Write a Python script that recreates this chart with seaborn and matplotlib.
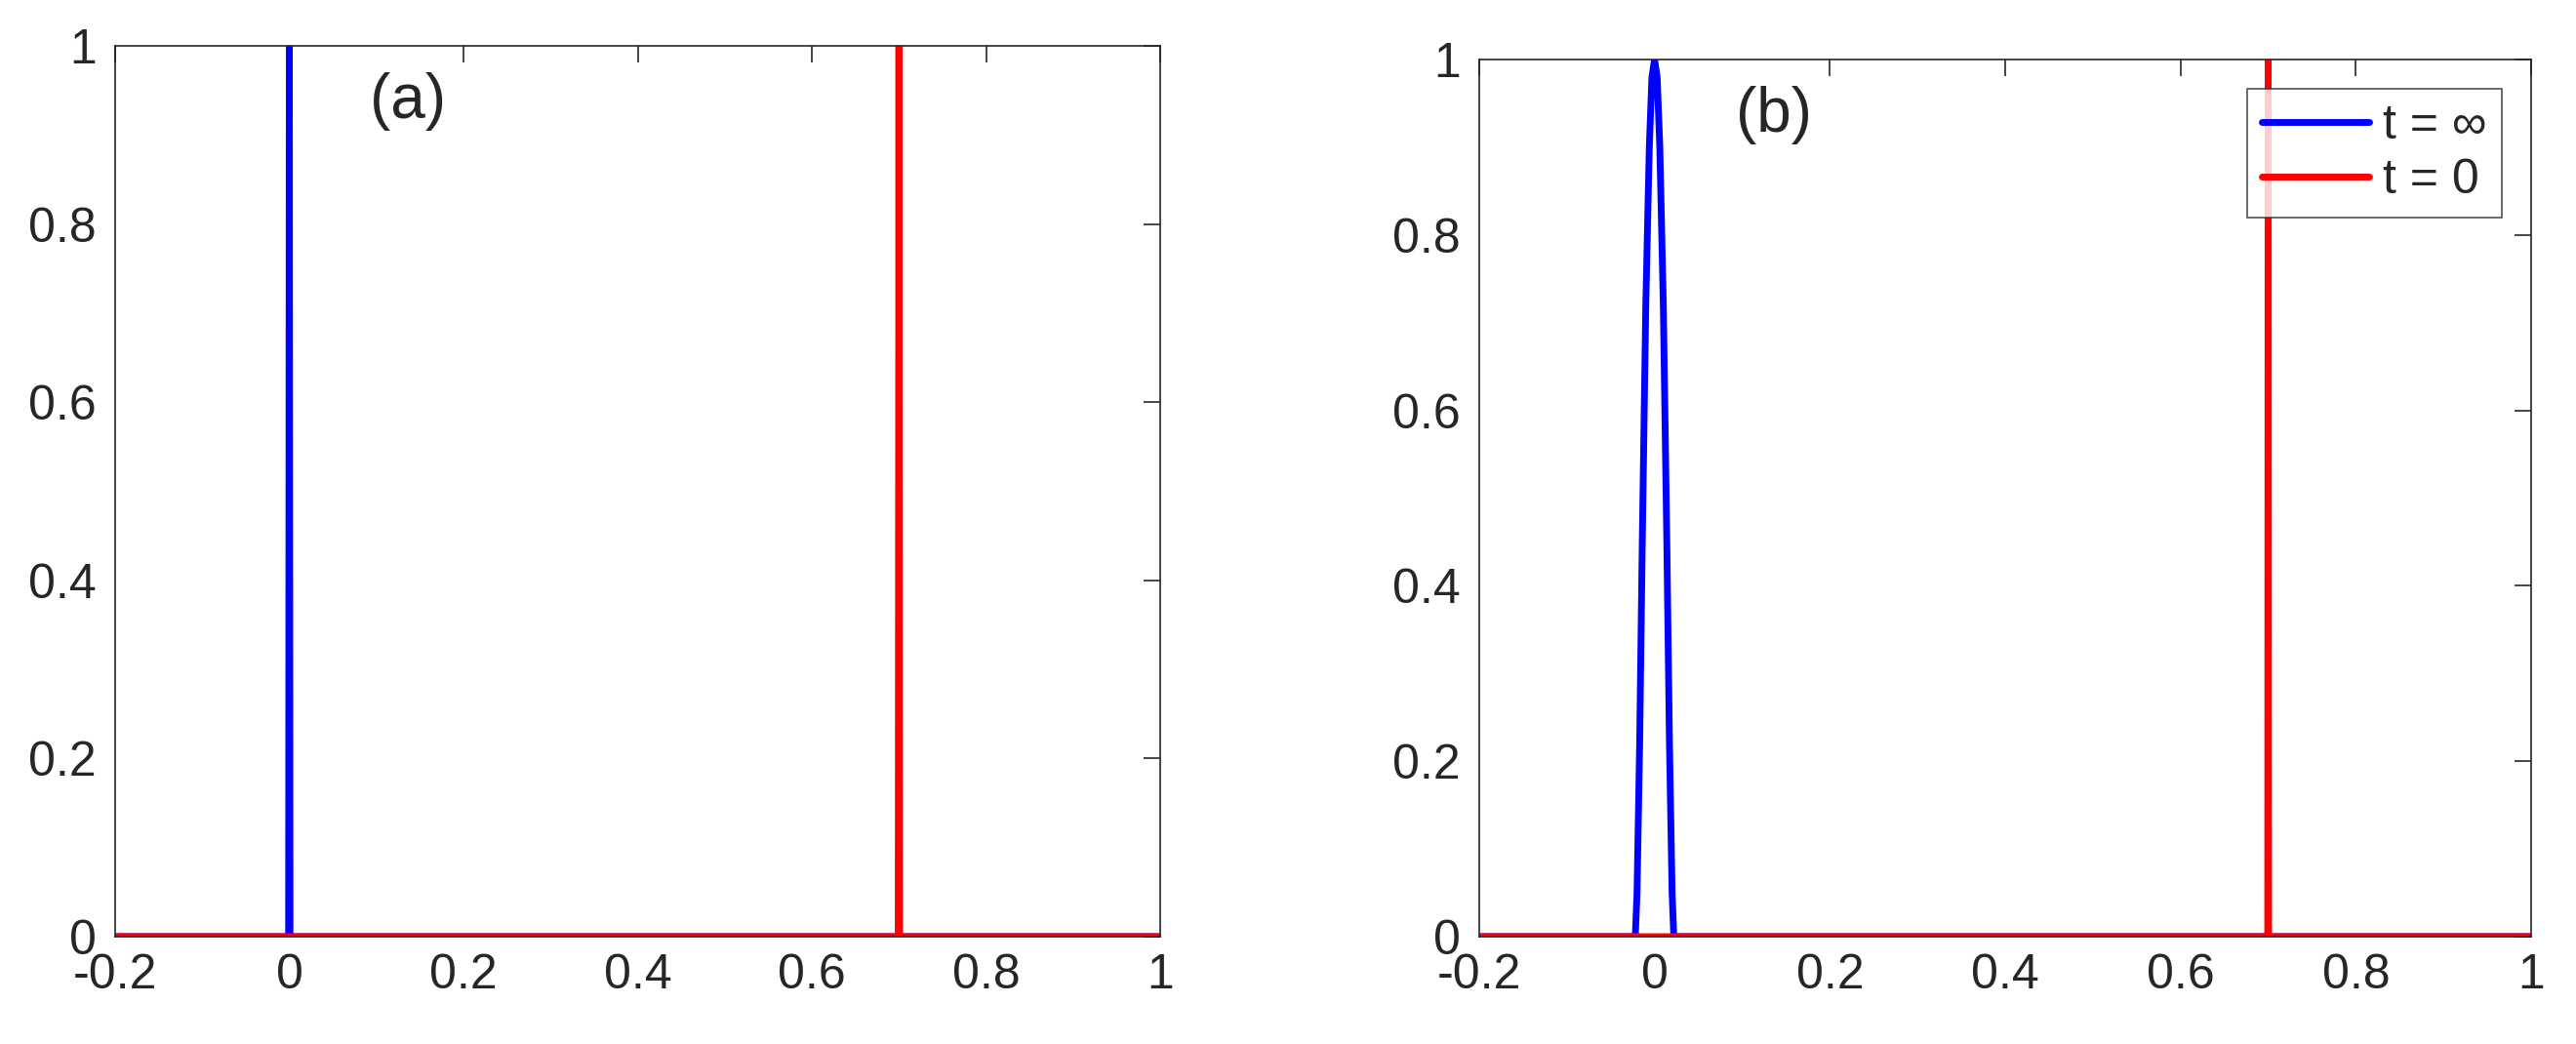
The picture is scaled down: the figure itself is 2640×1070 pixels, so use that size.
import numpy as np
import pandas as pd
import matplotlib
matplotlib.use("Agg")
import matplotlib.pyplot as plt
import seaborn as sns

sns.set_style("white")
plt.rcParams['font.family'] = ['Liberation Sans', 'DejaVu Sans']

# panel (a): sharp spikes
a_blue_x = [-0.2, -0.0008, 0.0, 0.0008, 1.0]
a_blue_y = [0, 0, 1, 0, 0]
a_red_x = [-0.2, 0.6992, 0.7, 0.7008, 1.0]
a_red_y = [0, 0, 1, 0, 0]

# panel (b): smooth peak at 0, spike at 0.7
b_blue_x = [-0.2, -0.022, -0.02, -0.017, -0.014, -0.01, -0.006, -0.003, 0.0, 0.003, 0.006,
            0.01, 0.014, 0.017, 0.02, 0.022, 1.0]
b_blue_y = [0, 0, 0.05, 0.22, 0.45, 0.72, 0.9, 0.98, 1.0, 0.98, 0.9,
            0.72, 0.45, 0.22, 0.05, 0, 0]
b_red_x = [-0.2, 0.6995, 0.7, 0.7005, 1.0]
b_red_y = [0, 0, 1, 0, 0]

xticks = [-0.2, 0, 0.2, 0.4, 0.6, 0.8, 1]
xticklabels = ['-0.2', '0', '0.2', '0.4', '0.6', '0.8', '1']
yticks = [0, 0.2, 0.4, 0.6, 0.8, 1]
yticklabels = ['0', '0.2', '0.4', '0.6', '0.8', '1']

fig = plt.figure(figsize=(26.4, 10.7), dpi=100)
ax1 = fig.add_axes([118/2640, 1 - 960/1070, (1189-118)/2640, (960-47)/1070])
ax2 = fig.add_axes([1516/2640, 1 - 960/1070, (2594-1516)/2640, (960-61)/1070])

panels = [
    (ax1, a_blue_x, a_blue_y, a_red_x, a_red_y, '(a)'),
    (ax2, b_blue_x, b_blue_y, b_red_x, b_red_y, '(b)'),
]
for ax, bx, by, rx, ry, label in panels:
    sns.lineplot(x=bx, y=by, ax=ax, color='blue', linewidth=5, sort=False,
                 estimator=None, label='t = \u221e')
    sns.lineplot(x=rx, y=ry, ax=ax, color='red', linewidth=5, sort=False,
                 estimator=None, label='t = 0')
    ax.set_xlim(-0.2, 1)
    ax.set_ylim(0, 1)
    ax.set_xticks(xticks)
    ax.set_xticklabels(xticklabels)
    ax.set_yticks(yticks)
    ax.set_yticklabels(yticklabels)
    ax.tick_params(direction='in', length=12, width=1.2, labelsize=36,
                   top=True, right=True, colors='#262626')
    ax.tick_params(axis='x', pad=12)
    ax.tick_params(axis='y', pad=14)
    for s in ax.spines.values():
        s.set_color('#262626')
        s.set_linewidth(1.2)
    ax.text(0.28, 0.97, label, transform=ax.transAxes, fontsize=46,
            ha='center', va='top')

ax1.get_legend().remove()
leg = ax2.legend(loc='upper right', fontsize=36, frameon=True, fancybox=False,
                 edgecolor='#262626', handlelength=2.2, borderaxespad=0.6,
                 borderpad=0.3, labelspacing=0.2, handletextpad=0.3)
leg.get_frame().set_linewidth(1.2)

fig.savefig("out.png", dpi=100)
